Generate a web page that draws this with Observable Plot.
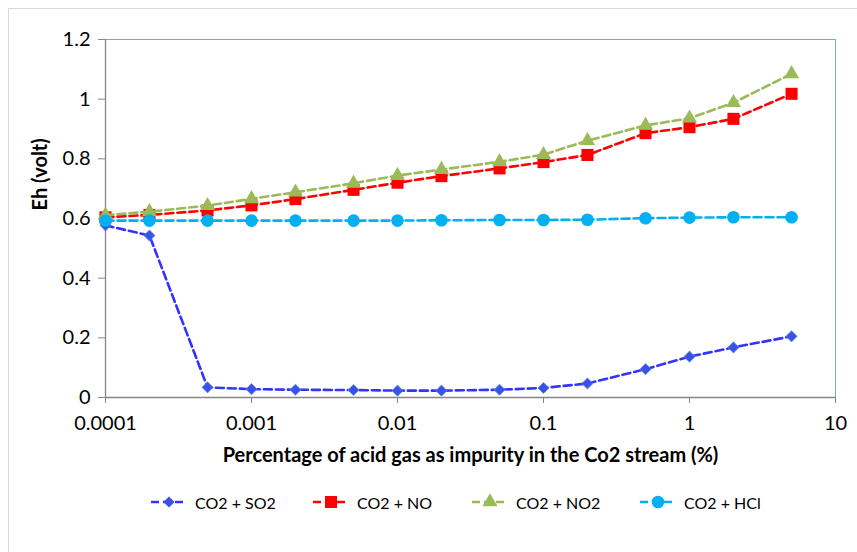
<!DOCTYPE html>
<html>
<head>
<meta charset="utf-8">
<script src="https://cdn.jsdelivr.net/npm/d3@7"></script>
<script src="https://cdn.jsdelivr.net/npm/@observablehq/plot@0.6"></script>
<style>
  html, body { margin: 0; padding: 0; background: #fff; }
  #wrap { position: relative; width: 857px; height: 552px; overflow: hidden; font-family: Lato, "Open Sans", sans-serif; }
  #border { position: absolute; left: 8px; top: 8px; width: 860px; height: 560px; border: 1px solid #d9d9d9; box-sizing: border-box; }
  #legend { position: absolute; top: 490px; left: 0; width: 857px; height: 24px; }
  .item { position: absolute; top: 0; display: flex; align-items: center; height: 24px; font-size: 16px; color: #000; }
  .item svg { margin-right: 8px; }
</style>
</head>
<body>
<div id="wrap"><div id="border"></div><div id="chart"></div><div id="legend"></div></div>
<script>
const concentrations = [0.0001, 0.0002, 0.0005, 0.001, 0.002, 0.005, 0.01, 0.02, 0.05, 0.1, 0.2, 0.5, 1, 2, 5];
const so2 = [0.577, 0.543, 0.034, 0.028, 0.026, 0.025, 0.023, 0.023, 0.026, 0.032, 0.047, 0.095, 0.137, 0.168, 0.205];
const no  = [0.604, 0.612, 0.627, 0.644, 0.665, 0.696, 0.720, 0.742, 0.768, 0.789, 0.813, 0.886, 0.906, 0.934, 1.018];
const no2 = [0.611, 0.623, 0.643, 0.666, 0.688, 0.718, 0.744, 0.764, 0.790, 0.814, 0.861, 0.912, 0.936, 0.988, 1.085];
const hcl = [0.593, 0.593, 0.593, 0.593, 0.593, 0.593, 0.593, 0.594, 0.595, 0.595, 0.596, 0.601, 0.603, 0.604, 0.604];

const seriesNames = ["CO2 + SO2", "CO2 + NO", "CO2 + NO2", "CO2 + HCl"];
const seriesValues = [so2, no, no2, hcl];
const seriesColors = ["#3333ff", "#ff0000", "#9bbb59", "#00b0f0"];
const markerFill = ["#3a50e6", "#ff0000", "#9bbb59", "#00b0f0"];
const seriesSymbols = ["diamond2", "square", "triangle", "circle"];
const markerR = [5, 6.8, 5.6, 6.3];

const xTicks = [0.0001, 0.001, 0.01, 0.1, 1, 10];
const xTickLabels = ["0.0001", "0.001", "0.01", "0.1", "1", "10"];
const yTicks = [0, 0.2, 0.4, 0.6, 0.8, 1, 1.2];
const yTickLabels = ["0", "0.2", "0.4", "0.6", "0.8", "1", "1.2"];
const xTitle = "Percentage of acid gas as impurity in the Co2 stream (%)";
const yTitle = "Eh (volt)";

const data = seriesNames.map((name, s) =>
  concentrations.map((c, i) => ({series: name, x: c, y: seriesValues[s][i]}))
);

const xLabelFor = d => {
  let best = 0;
  xTicks.forEach((t, i) => { if (Math.abs(Math.log10(t) - Math.log10(d)) < Math.abs(Math.log10(xTicks[best]) - Math.log10(d))) best = i; });
  return xTickLabels[best];
};
const yLabelFor = d => yTickLabels[yTicks.findIndex(t => Math.abs(t - d) < 1e-6)];

const marks = [
  Plot.axisY(yTicks, {tickFormat: yLabelFor, tickSize: 7, tickPadding: 8, stroke: "#868686", fontSize: 20, fill: "#000", label: null}),
  Plot.axisX(xTicks, {tickFormat: xLabelFor, tickSize: 6, tickPadding: 12, stroke: "#868686", fontSize: 20, fill: "#000", label: null}),
  Plot.ruleY([1.2], {stroke: "#7ea6dc", strokeWidth: 1}),
  Plot.ruleX([10], {stroke: "#7ea6dc", strokeWidth: 1}),
  Plot.ruleX([0.0001], {stroke: "#868686", strokeWidth: 1.3}),
  Plot.ruleY([0], {stroke: "#868686", strokeWidth: 1.3}),
  Plot.text([xTitle], {frameAnchor: "bottom", dy: 64, fontSize: 20, fontWeight: "bold", fill: "#000"}),
  Plot.text([yTitle], {frameAnchor: "left", dx: -65, dy: -8, rotate: -90, fontSize: 20, fontWeight: "bold", fill: "#000"})
];
data.forEach((d, s) => {
  marks.push(Plot.line(d, {x: "x", y: "y", stroke: seriesColors[s], strokeWidth: 2.6, strokeDasharray: "8,4"}));
  marks.push(Plot.dot(d, {x: "x", y: "y", symbol: () => seriesSymbols[s], r: markerR[s], fill: markerFill[s], stroke: s === 0 ? "#5b8fd6" : "none", strokeWidth: 0.8}));
});

const chart = Plot.plot({
  width: 857,
  height: 552,
  marginLeft: 105,
  marginRight: 22,
  marginTop: 39,
  marginBottom: 155,
  style: {fontFamily: "Lato, 'Open Sans', sans-serif", background: "transparent", overflow: "visible"},
  x: {type: "log", domain: [0.0001, 10]},
  y: {domain: [0, 1.2]},
  symbol: {type: "identity"},
  marks
});
chart.style.position = "absolute";
chart.style.left = "0";
chart.style.top = "0";
document.getElementById("chart").appendChild(chart);

// legend
const legendX = [151, 313, 472, 640];
const legend = document.getElementById("legend");
seriesNames.forEach((name, s) => {
  const item = document.createElement("div");
  item.className = "item";
  item.style.left = legendX[s] + "px";
  const ns = "http://www.w3.org/2000/svg";
  const svg = document.createElementNS(ns, "svg");
  svg.setAttribute("width", 36);
  svg.setAttribute("height", 24);
  const ln = document.createElementNS(ns, "line");
  ln.setAttribute("x1", 0); ln.setAttribute("x2", 36);
  ln.setAttribute("y1", 12); ln.setAttribute("y2", 12);
  ln.setAttribute("stroke", seriesColors[s]);
  ln.setAttribute("stroke-width", 2.6);
  ln.setAttribute("stroke-dasharray", "8,4");
  svg.appendChild(ln);
  const symMap = {diamond2: d3.symbolDiamond2, square: d3.symbolSquare, triangle: d3.symbolTriangle, circle: d3.symbolCircle};
  const p = document.createElementNS(ns, "path");
  const rr = markerR[s];
  p.setAttribute("d", d3.symbol(symMap[seriesSymbols[s]], Math.PI * rr * rr)());
  p.setAttribute("transform", "translate(18,12)");
  p.setAttribute("fill", markerFill[s]);
  svg.appendChild(p);
  item.appendChild(svg);
  const t = document.createElement("span");
  t.textContent = name;
  item.appendChild(t);
  legend.appendChild(item);
});
</script>
</body>
</html>
